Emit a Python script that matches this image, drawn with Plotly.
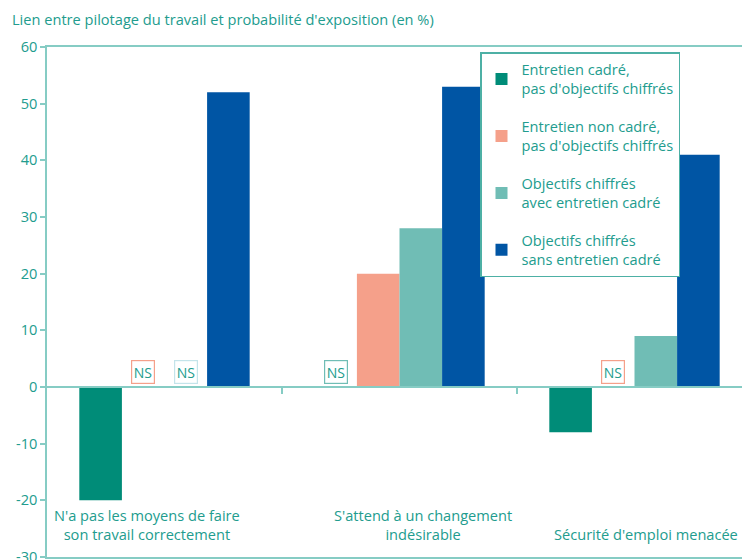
import plotly.graph_objects as go

# Données (None = non significatif, "NS")
categories = [
    "N'a pas les moyens de faire<br>son travail correctement",
    "S'attend à un changement<br>indésirable",
    "Sécurité d'emploi menacée",
]
series_names = [
    "Entretien cadré,<br>pas d'objectifs chiffrés",
    "Entretien non cadré,<br>pas d'objectifs chiffrés",
    "Objectifs chiffrés<br>avec entretien cadré",
    "Objectifs chiffrés<br>sans entretien cadré",
]
entretien_cadre = [-20, None, -8]
entretien_non_cadre = [None, 20, None]
objectifs_avec_entretien = [None, 28, 9]
objectifs_sans_entretien = [52, 53, 41]
y_ticks = [-30, -20, -10, 0, 10, 20, 30, 40, 50, 60]

values = [entretien_cadre, entretien_non_cadre, objectifs_avec_entretien, objectifs_sans_entretien]
colors = ["#008C78", "#F5A08A", "#70BDB5", "#0055A4"]
ns_borders = ["#70BDB5", "#F5A08A", "#C4E4EA", "#0055A4"]
text_color = "#229C8E"
axis_color = "#86CCC4"
font = "Open Sans"
fs = 14.6

W, H = 742, 560

x = list(range(len(categories)))
bargap = 0.275
bar_w = (1 - bargap) / len(values)

fig = go.Figure()
for i, (name, vals, col) in enumerate(zip(series_names, values, colors)):
    fig.add_trace(go.Bar(
        x=x, y=[v if v is not None else 0 for v in vals],
        name=name, marker=dict(color=col, line=dict(width=0)),
        legendgroup=f"g{i}", hoverinfo="skip",
    ))

annotations = []
# Boîtes "NS"
for i, vals in enumerate(values):
    off = (i - (len(values) - 1) / 2) * bar_w
    for j, v in enumerate(vals):
        if v is None:
            annotations.append(dict(
                x=x[j] + off, y=0, xref="x", yref="y", text="NS", showarrow=False,
                yanchor="bottom", yshift=3, font=dict(family=font, size=14, color=text_color),
                bordercolor=ns_borders[i], borderwidth=1.2, borderpad=1.5, bgcolor="white",
            ))

# Libellés de catégories dans la zone de tracé
label_shift = [-18, 23, 11]
for j, cat in enumerate(categories):
    annotations.append(dict(
        x=x[j], y=-30, xref="x", yref="y", text=cat, showarrow=False,
        yanchor="bottom", yshift=11, xshift=label_shift[j],
        font=dict(family=font, size=fs, color=text_color),
    ))

fig.update_layout(
    width=W, height=H,
    margin=dict(l=47, r=0, t=47, b=3),
    paper_bgcolor="white", plot_bgcolor="white",
    barmode="group", bargap=bargap, bargroupgap=0,
    font=dict(family=font, size=fs, color=text_color),
    title=dict(
        text="Lien entre pilotage du travail et probabilité d'exposition (en %)",
        xref="container", x=12 / W, xanchor="left",
        yref="container", y=1 - 20 / H, yanchor="middle",
        font=dict(family=font, size=fs, color=text_color),
    ),
    xaxis=dict(
        range=[-0.5, 2.5 - 10 / 235], showgrid=False, zeroline=False,
        showticklabels=False, ticks="", showline=True, mirror=True,
        linecolor=axis_color, linewidth=1.5, automargin=False,
    ),
    xaxis2=dict(
        overlaying="x", anchor="free", position=(0 + 30) / 90,
        range=[-0.5, 2.5 - 10 / 235], showgrid=False, zeroline=False,
        showticklabels=False, showline=True, linecolor=axis_color, linewidth=1.5,
        ticks="outside", tickvals=[0.5, 1.5], ticklen=6, tickcolor=axis_color, tickwidth=1.5,
        automargin=False,
    ),
    yaxis=dict(
        range=[-30, 60], tickvals=y_ticks, ticktext=[str(v) for v in y_ticks],
        showgrid=False, zeroline=False, ticklabeloverflow="allow", automargin=False,
        showline=True, linecolor=axis_color, linewidth=1.5,
        ticks="outside", ticklen=5, tickcolor=axis_color, tickwidth=1.5,
        tickfont=dict(family=font, size=fs, color=text_color),
    ),
    legend=dict(
        x=(480 - 47) / 695, xanchor="left", y=(557 - 52) / 510, yanchor="top",
        bordercolor="#4DB0A5", borderwidth=1.5, bgcolor="white",
        font=dict(family=font, size=fs, color=text_color),
        tracegroupgap=16, traceorder="grouped", itemwidth=30,
    ),
    annotations=annotations,
)
# trace invisible pour activer l'axe de la ligne zéro
fig.add_trace(go.Scatter(x=[None], y=[None], xaxis="x2", showlegend=False, hoverinfo="skip"))

# pas de marge de page autour du graphique
fig.write_html(
    "out.html",
    config={"displayModeBar": False},
    post_script="document.body.style.margin='0';",
)
